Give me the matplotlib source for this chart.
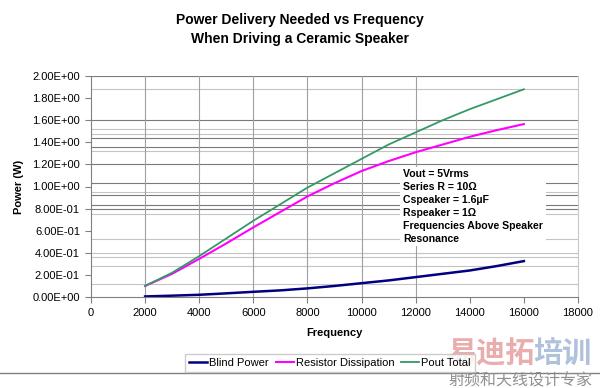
import numpy as np
import matplotlib.pyplot as plt

#---------- Data ----------#

freq = [2000, 3000, 4000, 5000, 6000, 7000, 8000, 9000, 10000,
        11000, 12000, 13000, 14000, 15000, 16000]
blind_power = [0.005, 0.012, 0.020, 0.033, 0.047, 0.060, 0.078, 0.100, 0.125,
               0.150, 0.180, 0.210, 0.240, 0.280, 0.325]
resistor_diss = [0.10, 0.21, 0.345, 0.485, 0.63, 0.77, 0.91, 1.03, 1.14,
                 1.23, 1.31, 1.38, 1.45, 1.51, 1.565]
pout_total = [0.10, 0.22, 0.37, 0.53, 0.69, 0.84, 0.99, 1.12, 1.25,
              1.38, 1.49, 1.60, 1.70, 1.79, 1.88]

x_ticks = list(range(0, 18001, 2000))
y_ticks = [0.0, 0.2, 0.4, 0.6, 0.8, 1.0, 1.2, 1.4, 1.6, 1.8, 2.0]
y_labels = ["%.2E" % v for v in y_ticks]

# scanned-in horizontal lines of the original picture
grid_dark = [2.0, 1.60, 1.437, 1.356, 1.202, 1.036, 0.922, 0.837, 0.795]
grid_light = [1.88, 1.518, 1.476, 1.325, 0.954, 0.753, 0.524, 0.398, 0.361, 0.277, 0.117]
grid_x = [2000, 4000, 6000, 8000, 10000, 12000]

note = ("Vout = 5Vrms\nSeries R = 10\u03a9\nCspeaker = 1.6\u00b5F\n"
        "Rspeaker = 1\u03a9\nFrequencies Above Speaker\nResonance")

plt.rcParams['font.family'] = ['Liberation Sans', 'DejaVu Sans']

#---------- Plot ----------#

fig = plt.figure(figsize=(6, 3.88), dpi=100)
ax = fig.add_axes([91/600, 1-297/388, 487/600, 221/388])

for v in grid_light:
    ax.axhline(v, color='#c4c4c4', lw=0.8, zorder=0)
for v in grid_dark:
    ax.axhline(v, color='#7a7a7a', lw=0.8, zorder=0)
for v in grid_x:
    ax.axvline(v, color='#a0a0a0', lw=0.8, zorder=0)

ax.plot(freq, blind_power, color='#000080', lw=1.8, label='Blind Power')
ax.plot(freq, resistor_diss, color='#ff00ff', lw=1.5, label='Resistor Dissipation')
ax.plot(freq, pout_total, color='#339966', lw=1.3, label='Pout Total')

ax.set_xlim(0, 18000)
ax.set_ylim(0, 2.0)
ax.set_xticks(x_ticks)
ax.set_yticks(y_ticks)
ax.set_yticklabels(y_labels)
ax.tick_params(labelsize=8, length=4, width=0.8, color='#808080', pad=4)

for s in ['left', 'bottom']:
    ax.spines[s].set_color('#808080')
ax.spines['top'].set_visible(False)
ax.spines['right'].set_color('#c8c8c8')

ax.set_xlabel('Frequency', fontsize=8, fontweight='bold', labelpad=7)
ax.set_ylabel('Power (W)', fontsize=8, fontweight='bold', labelpad=6)

ax.text(0.641, 0.578, note, transform=ax.transAxes, fontsize=7.6, fontweight='bold',
        va='top', ha='left', linespacing=1.36,
        bbox=dict(facecolor='white', edgecolor='none', pad=2))

fig.text(0.5, 0.923, 'Power Delivery Needed vs Frequency\nWhen Driving a Ceramic Speaker',
         ha='center', va='center', fontsize=10, fontweight='bold', linespacing=1.45)

fig.legend(loc='center left', bbox_to_anchor=(185/600, 1-363/388), ncol=3, fontsize=8,
           frameon=True, fancybox=False, edgecolor='#c0c0c0', handlelength=1.6,
           handletextpad=0.2, columnspacing=0.6, borderpad=0.4, borderaxespad=0)

fig.add_artist(plt.Line2D([0, 1], [1-373/388, 1-373/388], color='#808080', lw=1.0))

# watermark
fig.text(0.745, 0.09, '易迪拓', family=['Noto Sans CJK SC'], fontsize=21,
         fontweight='bold', color='#e8a4a4', ha='left', va='center', alpha=0.9)
fig.text(0.888, 0.09, '培训', family=['Noto Sans CJK SC'], fontsize=21,
         fontweight='bold', color='#a8bcd8', ha='left', va='center', alpha=0.9)
fig.text(0.748, 0.018, '射频和天线设计专家', family=['Noto Sans CJK SC'], fontsize=11.5,
         color='#909090', ha='left', va='center')

plt.savefig('out.png', dpi=100)
